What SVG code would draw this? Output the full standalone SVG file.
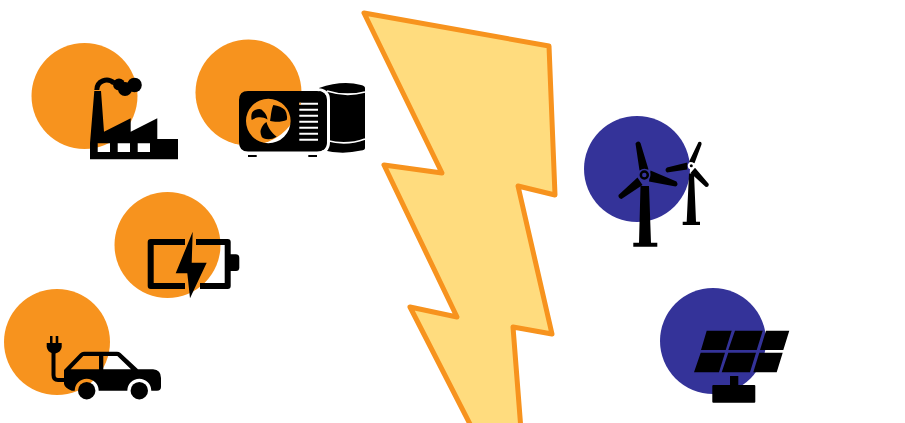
<svg xmlns="http://www.w3.org/2000/svg" width="905" height="423" viewBox="0 0 905 423">
<style>
.o{fill:#f7931e}.b{fill:#343399}.k{fill:#000}
</style>
<rect width="905" height="423" fill="#fff"/>
<g id="lightning"><path d="M364 13L549 46L555 195L518 186L552 334L513 327L521 430L473 430L410 307L457 317L384 165L442 173Z" fill="#ffdc7e" stroke="#f7931e" stroke-width="5" stroke-linejoin="round"/></g>
<g id="factory">
<circle class="o" cx="84.500" cy="96" r="53"/>
<path class="k" fill-rule="evenodd" d="M94.300 91H101L104 131.700L130.700 118.300V131.700L157.300 118.300V139H178V159.300H90V143ZM97.700 143.300V152H110V143.300ZM117.700 143.300V152H130V143.300ZM137.700 143.300V152H150V143.300Z"/>
<path d="M96.800 90C97 81 107 77 114 83" fill="none" stroke="#000" stroke-width="5"/>
<circle class="k" cx="119" cy="84.500" r="6"/><circle class="k" cx="125" cy="89" r="7"/><circle class="k" cx="134.500" cy="85" r="7.300"/>
</g>
<g id="heatpump">
<circle class="o" cx="248.500" cy="92.500" r="53"/>
<path class="k" d="M319 88Q342 80 361 85Q365 86 365 88V148Q365 150 361 150.500Q342 155 322 150Z"/>
<path d="M327 91Q346 97 365 92M327 140.500Q346 146 365 139" fill="none" stroke="#fff" stroke-width="1.800"/>
<path d="M316 89.500Q328.500 89.500 328.500 100V142Q328.500 153 316 153" fill="none" stroke="#fff" stroke-width="3"/>
<path class="k" fill-rule="evenodd" d="M248 91H317Q326.500 91 326.500 100V142Q326.500 151.500 317 151.500H248Q239 151.500 239 142V100Q239 91 248 91ZM268.300 98.700A22.300 22.300 0 1 0 268.301 143.300A22.300 22.300 0 1 0 268.300 98.700Z"/>
<path d="M299.300 102.700H318v2h-18.700zM299.300 108.700H318v2h-18.700zM299.300 114.700H318v2h-18.700zM299.300 120.700H318v2h-18.700zM299.300 126.700H318v2h-18.700zM299.300 132.700H318v2h-18.700zM299.300 138.700H318v2h-18.700z" fill="#fff"/>
<rect class="o" x="299.300" y="102.700" width="1.500" height="2"/>
<path class="k" d="M251.700 120C250.500 115 252 111 255 110Q261 107.500 263 111C265.500 113 267 116 267.500 119.500C262 116 256 117 251.700 120ZM273.300 105Q281 106 285 110Q288 115 286.700 120C282 122 275 122.500 270 120.700C271 117 271 110 273.300 105ZM260.700 130C262 126 264 123.500 266.500 122C268 128 272 133 276.700 136.700Q272 139.500 268.300 139.300Q263 139 261.700 136.700Q260 133 260.700 130Z"/>
<rect class="k" x="248" y="155" width="8.700" height="2"/><rect class="k" x="308.300" y="155" width="8.700" height="2"/>
</g>
<g id="battery">
<circle class="o" cx="167.500" cy="245" r="53"/>
<path d="M185 242H150.700V286H185M196 242H227.700V286H200" fill="none" stroke="#000" stroke-width="6" stroke-linejoin="round"/>
<path class="k" d="M230 254.300H236Q239.300 254.300 239.300 258V267.500Q239.300 271 236 271H230Z"/>
<path class="k" d="M192.700 231.700L175.700 273.300H187.300L190 298.300L206.700 262.700H191.700Z"/>
</g>
<g id="car">
<circle class="o" cx="57" cy="342" r="53"/>
<path class="k" d="M50 336H52.500V343H50ZM55.700 336H58.300V343H55.700ZM46.700 343H61.700V347Q61 352 55.500 353.500H53Q47.500 352 46.700 347Z"/>
<path d="M53.500 352V375Q53.500 380 58 380H66" fill="none" stroke="#000" stroke-width="4"/>
<path class="k" fill-rule="evenodd" d="M64 370L80 353.500Q81.700 351.700 84 351.700H117Q119 351.700 120.500 353L138 369.300H153Q161 370 161 378V387Q161 390.700 157 390.700H151.300A12 12 0 0 0 127.300 390.700H98.700A12 12 0 0 0 74.700 390.700H71.700Q65 388 64 384ZM70.700 369.300L83.300 356H99V369.300ZM103.300 369.300V356H117.300L131 369.300Z"/>
<circle class="k" cx="86.700" cy="390.700" r="8.700"/><circle class="k" cx="139.300" cy="390.700" r="8.700"/>
</g>
<g id="wind">
<circle class="b" cx="637" cy="169" r="53"/>
<path class="k" d="M640.500 186H649L651 242.700H657.300V246.700H633.300V242.700H639Z"/>
<path class="k" d="M635.500 143.500Q638 140 640.500 143L648.500 169.500L639.500 170.500ZM650.500 170.500L676.500 181.500Q679 185 675.500 186.500L649 181.500ZM637.500 177.500L642.500 185L621.500 199Q618 198 618.500 195Z"/>
<circle cx="644.300" cy="175" r="5.200" fill="none" stroke="#343399" stroke-width="2"/><circle cx="644.300" cy="175" r="3.500" fill="none" stroke="#000" stroke-width="2.500"/>
<path class="k" d="M689 173.500H694L696 221.700H700V225H682.700V221.700H686.700Z"/>
<path class="k" d="M698.500 142Q702 141 701.500 144.500L694.500 163.300L689 161.700ZM687.300 162.500V169.500L667 172.500Q664 170 667 167.500ZM695 167.800L708.800 184Q708.800 187.500 705.500 186.800L690.500 173Z"/>
<circle cx="691.300" cy="165.700" r="3.500" fill="#fff"/><circle class="k" cx="691.300" cy="165.700" r="1.500"/>
</g>
<g id="solar">
<circle class="b" cx="713" cy="341" r="53"/>
<path class="k" d="M706.700 330.700H731.700L725.700 350H701ZM735 330.700H762.700L756.700 350H728.300ZM766 330.700H789.300L783.300 350H760ZM700.700 352.700H725L719 372.300H694ZM728.300 352.700H756L750 372.300H721.700ZM759.300 352.700H782.700L776.700 372.300H753.300Z"/>
<rect class="k" x="730" y="376" width="8.300" height="10"/>
<rect class="k" x="712.300" y="385" width="43" height="17.700" rx="1"/>
</g>
</svg>
